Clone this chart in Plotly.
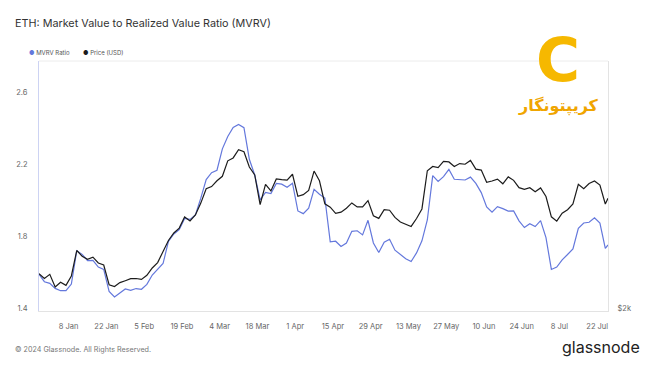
import pandas as pd
import plotly.graph_objects as go

# ---- data ----
dates = list(pd.date_range("2023-12-28", periods=106, freq="2D").strftime("%Y-%m-%d")) + ["2024-07-26"]

mvrv_ratio = [1.587, 1.546, 1.537, 1.509, 1.496, 1.496, 1.533, 1.718, 1.698, 1.663,
              1.664, 1.627, 1.614, 1.492, 1.461, 1.484, 1.506, 1.498, 1.508, 1.504,
              1.531, 1.583, 1.618, 1.647, 1.770, 1.811, 1.836, 1.897, 1.892, 1.917,
              2.010, 2.113, 2.152, 2.165, 2.284, 2.353, 2.403, 2.419, 2.402, 2.226,
              2.139, 2.001, 2.042, 2.036, 2.092, 2.088, 2.071, 2.093, 1.939, 1.924,
              1.954, 2.059, 2.032, 2.011, 1.767, 1.771, 1.742, 1.761, 1.826, 1.829,
              1.806, 1.887, 1.761, 1.708, 1.766, 1.782, 1.721, 1.698, 1.674, 1.658,
              1.706, 1.773, 1.889, 2.135, 2.103, 2.130, 2.170, 2.115, 2.115, 2.111,
              2.127, 2.092, 2.041, 1.961, 1.932, 1.963, 1.952, 1.938, 1.939, 1.884,
              1.847, 1.868, 1.852, 1.885, 1.791, 1.614, 1.627, 1.667, 1.697, 1.728,
              1.843, 1.872, 1.876, 1.901, 1.872, 1.731, 1.750]

price_usd = [2328, 2278, 2320, 2194, 2241, 2210, 2304, 2577, 2514, 2479,
             2503, 2439, 2418, 2216, 2199, 2237, 2256, 2276, 2278, 2269,
             2310, 2386, 2444, 2568, 2694, 2784, 2845, 2988, 2936, 3016,
             3177, 3384, 3417, 3506, 3576, 3828, 3877, 4019, 3985, 3724,
             3597, 3157, 3450, 3352, 3533, 3523, 3516, 3608, 3274, 3298,
             3360, 3659, 3506, 3166, 3120, 3036, 3052, 3106, 3179, 3123,
             3125, 3211, 3004, 2970, 3085, 3078, 2982, 2922, 2893, 2866,
             2968, 3096, 3664, 3733, 3714, 3819, 3809, 3734, 3782, 3771,
             3834, 3690, 3675, 3482, 3502, 3531, 3459, 3566, 3512, 3401,
             3376, 3400, 3340, 3397, 3271, 2990, 2933, 3039, 3086, 3164,
             3452, 3385, 3463, 3502, 3441, 3164, 3244]

x_tick_vals = ["2024-01-08", "2024-01-22", "2024-02-05", "2024-02-19", "2024-03-04",
               "2024-03-18", "2024-04-01", "2024-04-15", "2024-04-29", "2024-05-13",
               "2024-05-27", "2024-06-10", "2024-06-24", "2024-07-08", "2024-07-22"]
x_tick_text = ["8 Jan", "22 Jan", "5 Feb", "19 Feb", "4 Mar", "18 Mar", "1 Apr", "15 Apr",
               "29 Apr", "13 May", "27 May", "10 Jun", "24 Jun", "8 Jul", "22 Jul"]
y_tick_vals = [1.4, 1.8, 2.2, 2.6]
price_tick_vals = [2000]
price_tick_text = ["$2k"]

BLUE = "#6478dc"
BLACK = "#1c1c1c"
TICK = "#666666"
FONT = "Inter"

fig = go.Figure()
fig.add_trace(go.Scatter(x=dates, y=mvrv_ratio, mode="lines", name="MVRV Ratio",
                         line=dict(color=BLUE, width=1.2), yaxis="y"))
fig.add_trace(go.Scatter(x=dates, y=price_usd, mode="lines", name="Price (USD)",
                         line=dict(color=BLACK, width=1.2), yaxis="y2"))

fig.update_layout(
    width=650, height=365,
    margin=dict(l=39, r=42, t=61, b=54, pad=0),
    paper_bgcolor="white", plot_bgcolor="white",
    showlegend=False,
    font=dict(family=FONT, color=TICK, size=8),
    xaxis=dict(type="date", range=["2023-12-28", "2024-07-26"],
               tickvals=x_tick_vals, ticktext=x_tick_text,
               showgrid=False, zeroline=False,
               showline=True, linecolor="#e3e3e3", linewidth=1,
               ticks="", ticklabelstandoff=8,
               tickfont=dict(size=7.5, color=TICK, family=FONT)),
    yaxis=dict(range=[1.3833, 2.772], tickvals=y_tick_vals, tickformat=".1f",
               showgrid=False, zeroline=False,
               showline=True, linecolor="#cdd3f3", linewidth=1,
               ticks="", ticklabelstandoff=9,
               tickfont=dict(size=7.5, color=TICK, family=FONT)),
    yaxis2=dict(type="log", range=[3.2953, 3.7742], overlaying="y", side="right",
                tickvals=price_tick_vals, ticktext=price_tick_text,
                showgrid=False, zeroline=False,
                showline=True, linecolor="#e3e3e3", linewidth=1,
                ticks="", ticklabelstandoff=7,
                tickfont=dict(size=7.5, color=TICK, family=FONT)),
)

# top frame line
fig.add_shape(type="line", xref="paper", yref="paper", x0=0, x1=1, y0=1, y1=1,
              line=dict(color="#ececec", width=1))


# paper-relative helpers (plot area spans 39..608 in x, 61..311 in y)
def px(xp):
    return (xp - 39) / 569.0


def py(yp):
    return (311 - yp) / 250.0


def note(text, x, y, font, xanchor="left"):
    fig.add_annotation(text=text, x=px(x), y=py(y), xref="paper", yref="paper",
                       xanchor=xanchor, yanchor="middle", showarrow=False,
                       borderpad=0, font=font)


note("ETH: Market Value to Realized Value Ratio (MVRV)", 14, 23,
     dict(size=10.8, color="#333333", family=FONT))
note(f"<span style='color:{BLUE}'>●</span> MVRV Ratio", 28, 53,
     dict(size=6, color="#555555", family=FONT))
note(f"<span style='color:{BLACK}'>●</span> Price (USD)", 82, 53,
     dict(size=6, color="#555555", family=FONT))
note("© 2024 Glassnode. All Rights Reserved.", 14, 349,
     dict(size=7.2, color="#777777", family=FONT))
note("glassnode", 641, 347, dict(size=16, color="#222222", family=FONT), xanchor="right")
note("<b>C</b>", 558, 60, dict(size=60, color="#f6b800", family="DejaVu Sans"), xanchor="center")
note("<b>کریپتونگار</b>", 558, 106, dict(size=16, color="#f0a500", family="DejaVu Sans"),
     xanchor="center")

fig.write_html("out.html", config={"displayModeBar": False},
               post_script="document.body.style.margin='0';")
